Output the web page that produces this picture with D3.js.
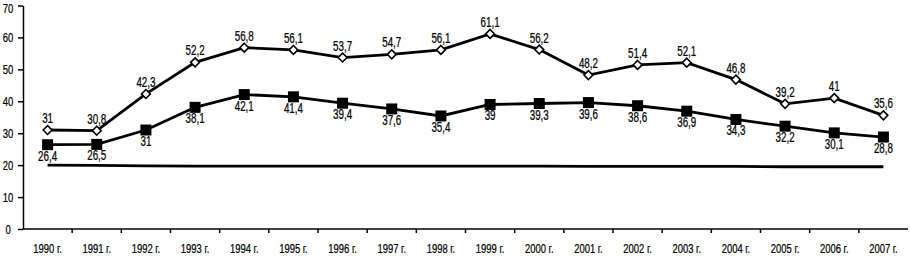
<!DOCTYPE html>
<meta charset="utf-8">
<style>
body { margin:0; background:#fff; font-family:"Liberation Sans", Arial, sans-serif; }
.axis path, .axis line { stroke:#000; stroke-width:1.5px; }
.axis text { font-family:"Liberation Sans", Arial, sans-serif; font-size:13.5px; fill:#000; stroke:#000; stroke-width:0.25px; }
.lbl { font-family:"Liberation Sans", Arial, sans-serif; font-size:14px; fill:#000; stroke:#000; stroke-width:0.25px; }
</style>
<svg width="910" height="262"></svg>
<script src="https://d3js.org/d3.v7.min.js"></script>
<script>

var years = ["1990 г.","1991 г.","1992 г.","1993 г.","1994 г.","1995 г.","1996 г.","1997 г.","1998 г.",
             "1999 г.","2000 г.","2001 г.","2002 г.","2003 г.","2004 г.","2005 г.","2006 г.","2007 г."];
var seriesA = [31, 30.8, 42.3, 52.2, 56.8, 56.1, 53.7, 54.7, 56.1, 61.1, 56.2, 48.2, 51.4, 52.1, 46.8, 39.2, 41, 35.6];
var seriesB = [26.4, 26.5, 31, 38.1, 42.1, 41.4, 39.4, 37.6, 35.4, 39, 39.3, 39.6, 38.6, 36.9, 34.3, 32.2, 30.1, 28.8];
var seriesC = [20, 19.9, 19.8, 19.7, 19.7, 19.7, 19.7, 19.7, 19.7, 19.7, 19.7, 19.6, 19.6, 19.6, 19.6, 19.5, 19.5, 19.5];
var yTicks = [0, 10, 20, 30, 40, 50, 60, 70];

var svg = d3.select("svg");
var narrow = "scale(0.7,1)";   // condensed look, no narrow font installed

var x = d3.scaleBand().domain(years).range([23, 908]);
var y = d3.scaleLinear().domain([0, 70]).range([229, 5.5]);
var cx = function(i) { return x(years[i]) + x.bandwidth() / 2; };
var fmt = function(v) { return String(v).replace(".", ","); };

// axes
var xAxis = svg.append("g").attr("class", "axis")
    .attr("transform", "translate(0,229)")
    .call(d3.axisBottom(x).tickSize(0).tickPadding(14));
xAxis.select(".domain").attr("d", "M23,0H908");
xAxis.selectAll("text").attr("transform", narrow);
// ticks between categories
xAxis.selectAll(".sep").data(years.slice(1)).enter().append("line")
    .attr("class", "sep")
    .attr("x1", function(d) { return x(d); }).attr("x2", function(d) { return x(d); })
    .attr("y1", 0).attr("y2", 4);

var yAxis = svg.append("g").attr("class", "axis")
    .attr("transform", "translate(23,0)")
    .call(d3.axisLeft(y).tickValues(yTicks).tickSize(5).tickPadding(3).tickSizeOuter(0));
yAxis.selectAll("text").attr("text-anchor", "middle").attr("x", 0)
    .attr("transform", function(d) { return "translate(-15," + (d === 70 ? 2.5 : 0) + ") " + narrow; });

var line = d3.line()
    .x(function(d, i) { return cx(i); })
    .y(function(d) { return y(d); });

// flat line
svg.append("path").datum(seriesC)
    .attr("d", line).attr("fill", "none").attr("stroke", "#000").attr("stroke-width", 2.8);

// series B (squares)
svg.append("path").datum(seriesB)
    .attr("d", line).attr("fill", "none").attr("stroke", "#000").attr("stroke-width", 2.8);
svg.selectAll(".sq").data(seriesB).enter().append("rect")
    .attr("class", "sq")
    .attr("x", function(d, i) { return cx(i) - 5.5; })
    .attr("y", function(d) { return y(d) - 5.5; })
    .attr("width", 11).attr("height", 11).attr("fill", "#000");
svg.selectAll(".lb").data(seriesB).enter().append("g")
    .attr("transform", function(d, i) { return "translate(" + cx(i) + "," + (y(d) + 16) + ")"; })
  .append("text")
    .attr("class", "lbl")
    .attr("transform", narrow)
    .attr("text-anchor", "middle")
    .text(fmt);

// series A (open diamonds)
svg.append("path").datum(seriesA)
    .attr("d", line).attr("fill", "none").attr("stroke", "#000").attr("stroke-width", 2.8);
svg.selectAll(".dm").data(seriesA).enter().append("path")
    .attr("class", "dm")
    .attr("d", d3.symbol(d3.symbolDiamond2, 50)())
    .attr("transform", function(d, i) { return "translate(" + cx(i) + "," + y(d) + ")"; })
    .attr("fill", "#fff").attr("stroke", "#000").attr("stroke-width", 1.6);
svg.selectAll(".la").data(seriesA).enter().append("g")
    .attr("transform", function(d, i) { return "translate(" + cx(i) + "," + (y(d) - 7) + ")"; })
  .append("text")
    .attr("class", "lbl")
    .attr("transform", narrow)
    .attr("text-anchor", "middle")
    .text(fmt);

</script>
